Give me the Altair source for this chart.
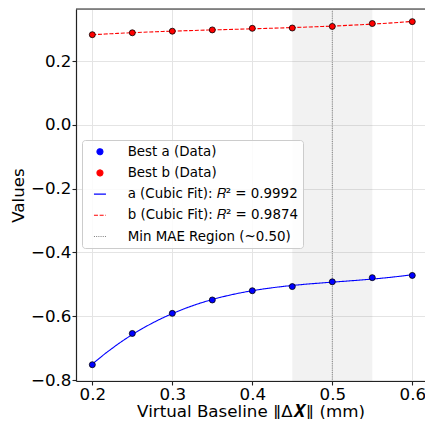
import altair as alt
import pandas as pd

# ---- data ----
xs = [0.2, 0.25, 0.3, 0.35, 0.4, 0.45, 0.5, 0.55, 0.6]
a_vals = [-0.752, -0.654, -0.591, -0.549, -0.520, -0.507, -0.492, -0.479, -0.472]
b_vals = [0.283, 0.289, 0.294, 0.298, 0.303, 0.304, 0.309, 0.318, 0.324]
labels = [
    "Best a (Data)",
    "Best b (Data)",
    "a (Cubic Fit): \U0001D445\u00b2 = 0.9992",
    "b (Cubic Fit): \U0001D445\u00b2 = 0.9874",
    "Min MAE Region (~0.50)",
]
colors = ["blue", "red", "blue", "red", "gray"]
shapes = ["circle", "circle", "M-2,0H2", "M-2,0H2", "M-2,0H2"]
dashes = [[1, 0], [1, 0], [1, 0], [4, 1.7], [1, 1.2]]
sizes = [36, 36, 182, 182, 182]
region = [0.45, 0.55]
min_mae_x = [0.5]
x_ticks = [0.2, 0.3, 0.4, 0.5, 0.6]
y_ticks = [-0.8, -0.6, -0.4, -0.2, 0.0, 0.2]

FONT = "DejaVu Sans"
FS = 16.7
W, H = 349, 372
x_dom = [0.1796, 0.6159]
y_dom = [-0.8031, 0.3636]

n = len(xs)
df = pd.DataFrame({
    "x": xs * 2,
    "y": a_vals + b_vals,
    "series": ["a"] * n + ["b"] * n,
    "label": [labels[0]] * n + [labels[1]] * n,
    "fitlabel": [labels[2]] * n + [labels[3]] * n,
})
region_df = pd.DataFrame({"x0": [region[0]], "x1": [region[1]]})
rule_df = pd.DataFrame({"x": min_mae_x, "label": [labels[4]]})
top_df = pd.DataFrame({"y": [y_dom[1]]})

xscale = alt.Scale(domain=x_dom, nice=False, zero=False)
yscale = alt.Scale(domain=y_dom, nice=False, zero=False)

legend = alt.Legend(
    title=None, orient="none", legendX=6, legendY=131,
    symbolOffset=6.25, labelOffset=21, symbolStrokeWidth=1.1,
    rowPadding=6.2, padding=5, fillColor="rgba(255,255,255,0.85)",
    strokeColor="#cccccc", cornerRadius=3,
    labelFont=FONT, labelFontSize=13.4, labelColor="black", labelLimit=400,
)

common_axis = dict(
    labelFontSize=FS, titleFontSize=FS, labelFont=FONT, titleFont=FONT,
    titleFontWeight="normal", labelColor="black", titleColor="black",
    grid=True, gridColor="#e4e4e4", domainColor="#222222", domainWidth=1.2,
    tickColor="#222222", tickWidth=1.1, tickSize=4, labelPadding=1,
)
x_axis = alt.Axis(
    values=x_ticks, format=".1f", title="Virtual Baseline \u2016\u0394\U0001D47F\u2016 (mm)",
    titlePadding=1, labelFlush=False, **common_axis,
)
y_axis = alt.Axis(
    values=y_ticks, title="Values",
    labelExpr="replace(format(datum.value, '.1f'), '-', '\u2212')",
    titlePadding=3, **common_axis,
)

X = alt.X("x:Q", scale=xscale, axis=x_axis)
Y = alt.Y("y:Q", scale=yscale, axis=y_axis)
C = alt.Color("label:N", scale=alt.Scale(domain=labels, range=colors), legend=legend)
S = alt.Shape("label:N", scale=alt.Scale(domain=labels, range=shapes), legend=legend)
D = alt.StrokeDash("label:N", scale=alt.Scale(domain=labels, range=dashes), legend=legend)
Z = alt.Size("label:N", scale=alt.Scale(domain=labels, range=sizes), legend=legend)

shade = alt.Chart(region_df).mark_rect(color="gray", opacity=0.1).encode(
    x=alt.X("x0:Q", scale=xscale, axis=x_axis),
    x2="x1:Q",
)

top_spine = alt.Chart(top_df).mark_rule(color="#222222", strokeWidth=1.2).encode(
    y=alt.Y("y:Q", scale=yscale, axis=y_axis),
)

rule = alt.Chart(rule_df).mark_rule(strokeWidth=1).encode(
    x=X, color=C, strokeDash=D,
)

fits = alt.Chart(df).transform_regression(
    "x", "y", method="poly", order=3, extent=[0.2, 0.6], groupby=["fitlabel"]
).transform_calculate(label="datum.fitlabel").mark_line(strokeWidth=1.1).encode(
    x=X, y=Y, color=C, strokeDash=D,
)

pts = alt.Chart(df).mark_point(filled=True, stroke="black", strokeWidth=0.8, opacity=1).encode(
    x=X, y=Y, color=C, shape=S, size=Z,
)

chart = alt.layer(shade, top_spine, rule, fits, pts).properties(
    width=W, height=H,
    autosize=alt.AutoSizeParams(type="none"),
    padding={"left": 68, "top": 1, "right": 0, "bottom": 38},
).configure_view(stroke=None).configure(font=FONT)

chart.save("out.html", embed_options={"renderer": "svg", "actions": False})
